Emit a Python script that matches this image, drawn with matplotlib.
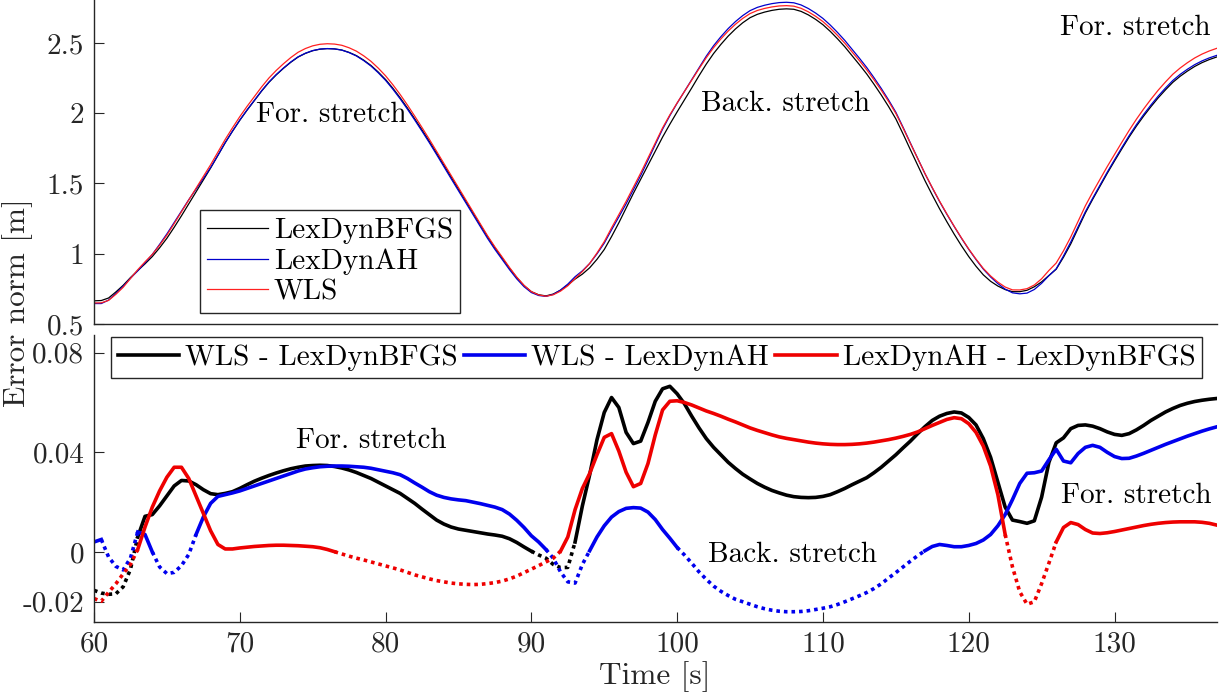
import numpy as np
import matplotlib
matplotlib.use("Agg")
import matplotlib.pyplot as plt

plt.rcParams['font.family'] = 'serif'
plt.rcParams['font.serif'] = ['cmr10']
plt.rcParams['mathtext.fontset'] = 'cm'
plt.rcParams['axes.unicode_minus'] = False

# time grid, 0.5 s samples
t = np.arange(60, 137.01, 0.5)

# error norm of LexDynBFGS (top panel)
err_bfgs = np.array([
    0.665, 0.667, 0.685, 0.728, 0.775, 0.830, 0.880, 0.928, 0.980, 1.042,
    1.110, 1.188, 1.270, 1.355, 1.440, 1.525, 1.610, 1.700, 1.790, 1.872,
    1.950, 2.022, 2.090, 2.158, 2.220, 2.273, 2.320, 2.363, 2.400, 2.426,
    2.445, 2.456, 2.460, 2.458, 2.450, 2.433, 2.410, 2.378, 2.340, 2.293,
    2.240, 2.178, 2.110, 2.037, 1.960, 1.881, 1.800, 1.716, 1.630, 1.545,
    1.460, 1.375, 1.290, 1.205, 1.120, 1.042, 0.970, 0.897, 0.830, 0.773,
    0.730, 0.708, 0.700, 0.713, 0.740, 0.778, 0.820, 0.855, 0.900, 0.960,
    1.030, 1.122, 1.220, 1.325, 1.430, 1.530, 1.630, 1.730, 1.830, 1.922,
    2.010, 2.095, 2.180, 2.267, 2.350, 2.425, 2.490, 2.549, 2.600, 2.644,
    2.680, 2.704, 2.720, 2.732, 2.740, 2.743, 2.740, 2.725, 2.700, 2.668,
    2.630, 2.583, 2.530, 2.473, 2.410, 2.346, 2.280, 2.207, 2.130, 2.048,
    1.960, 1.852, 1.740, 1.630, 1.520, 1.418, 1.320, 1.228, 1.140, 1.057,
    0.980, 0.911, 0.850, 0.804, 0.770, 0.745, 0.730, 0.730, 0.740, 0.765,
    0.800, 0.845, 0.890, 0.975, 1.070, 1.180, 1.290, 1.387, 1.480, 1.572,
    1.660, 1.746, 1.830, 1.908, 1.980, 2.047, 2.110, 2.167, 2.220, 2.263,
    2.300, 2.333, 2.360, 2.382, 2.400])

# differences (bottom panel)
wls_minus_bfgs = np.array([
    -0.0154, -0.0165, -0.0170, -0.0168, -0.0140, -0.0070, 0.0060, 0.0143, 0.0150, 0.0185,
    0.0225, 0.0265, 0.0287, 0.0285, 0.0270, 0.0250, 0.0234, 0.0230, 0.0235, 0.0242,
    0.0255, 0.0270, 0.0284, 0.0296, 0.0307, 0.0317, 0.0326, 0.0334, 0.0340, 0.0345,
    0.0347, 0.0348, 0.0347, 0.0343, 0.0337, 0.0329, 0.0319, 0.0307, 0.0295, 0.0280,
    0.0265, 0.0250, 0.0235, 0.0215, 0.0195, 0.0172, 0.0150, 0.0128, 0.0112, 0.0100,
    0.0092, 0.0087, 0.0082, 0.0077, 0.0072, 0.0068, 0.0063, 0.0053, 0.0038, 0.0020,
    0.0003, -0.0012, -0.0025, -0.0050, -0.0063, -0.0062, 0.0040, 0.0185, 0.0310, 0.0450,
    0.0560, 0.0620, 0.0580, 0.0480, 0.0435, 0.0445, 0.0520, 0.0605, 0.0655, 0.0665,
    0.0635, 0.0595, 0.0545, 0.0498, 0.0455, 0.0420, 0.0390, 0.0360, 0.0335, 0.0312,
    0.0293, 0.0275, 0.0260, 0.0247, 0.0237, 0.0228, 0.0222, 0.0219, 0.0218, 0.0219,
    0.0223, 0.0230, 0.0242, 0.0255, 0.0270, 0.0284, 0.0298, 0.0318, 0.0340, 0.0365,
    0.0390, 0.0418, 0.0445, 0.0475, 0.0503, 0.0528, 0.0545, 0.0556, 0.0562, 0.0558,
    0.0540, 0.0510, 0.0455, 0.0380, 0.0280, 0.0180, 0.0128, 0.0122, 0.0115, 0.0125,
    0.0220, 0.0360, 0.0438, 0.0458, 0.0495, 0.0508, 0.0510, 0.0505, 0.0495, 0.0482,
    0.0472, 0.0468, 0.0475, 0.0490, 0.0508, 0.0528, 0.0545, 0.0562, 0.0576, 0.0588,
    0.0597, 0.0604, 0.0609, 0.0613, 0.0616])

wls_minus_ah = np.array([
    0.0040, 0.0050, -0.0020, -0.0058, -0.0072, -0.0025, 0.0080, 0.0070, 0.0000, -0.0060,
    -0.0087, -0.0082, -0.0055, -0.0010, 0.0070, 0.0140, 0.0195, 0.0223, 0.0230, 0.0237,
    0.0245, 0.0255, 0.0265, 0.0275, 0.0285, 0.0295, 0.0305, 0.0315, 0.0325, 0.0333,
    0.0338, 0.0342, 0.0344, 0.0345, 0.0345, 0.0344, 0.0342, 0.0340, 0.0336, 0.0330,
    0.0324, 0.0318, 0.0310, 0.0295, 0.0277, 0.0260, 0.0242, 0.0228, 0.0219, 0.0213,
    0.0209, 0.0206, 0.0200, 0.0194, 0.0187, 0.0180, 0.0170, 0.0152, 0.0127, 0.0098,
    0.0065, 0.0040, 0.0010, -0.0025, -0.0080, -0.0120, -0.0125, -0.0050, 0.0005, 0.0060,
    0.0105, 0.0140, 0.0162, 0.0175, 0.0178, 0.0176, 0.0160, 0.0130, 0.0090, 0.0055,
    0.0018, -0.0012, -0.0045, -0.0080, -0.0110, -0.0137, -0.0158, -0.0175, -0.0190, -0.0200,
    -0.0210, -0.0220, -0.0228, -0.0234, -0.0238, -0.0240, -0.0240, -0.0239, -0.0236, -0.0231,
    -0.0226, -0.0220, -0.0211, -0.0200, -0.0188, -0.0176, -0.0163, -0.0147, -0.0128, -0.0105,
    -0.0083, -0.0060, -0.0037, -0.0015, 0.0005, 0.0022, 0.0030, 0.0026, 0.0021, 0.0021,
    0.0026, 0.0034, 0.0048, 0.0070, 0.0105, 0.0150, 0.0210, 0.0275, 0.0316, 0.0318,
    0.0325, 0.0370, 0.0412, 0.0365, 0.0358, 0.0395, 0.0420, 0.0428, 0.0420, 0.0400,
    0.0383, 0.0375, 0.0376, 0.0385, 0.0396, 0.0408, 0.0420, 0.0432, 0.0443, 0.0454,
    0.0465, 0.0475, 0.0485, 0.0494, 0.0502])

ah_minus_bfgs = np.array([
    -0.0187, -0.0198, -0.0162, -0.0128, -0.0088, -0.0050, 0.0010, 0.0100, 0.0180, 0.0245,
    0.0300, 0.0340, 0.0340, 0.0295, 0.0225, 0.0154, 0.0085, 0.0030, 0.0012, 0.0012,
    0.0016, 0.0019, 0.0022, 0.0024, 0.0026, 0.0027, 0.0027, 0.0026, 0.0025, 0.0023,
    0.0021, 0.0017, 0.0010, 0.0001, -0.0008, -0.0017, -0.0025, -0.0032, -0.0040, -0.0048,
    -0.0056, -0.0064, -0.0072, -0.0082, -0.0092, -0.0100, -0.0108, -0.0115, -0.0120, -0.0125,
    -0.0128, -0.0130, -0.0131, -0.0130, -0.0127, -0.0123, -0.0117, -0.0108, -0.0097, -0.0083,
    -0.0069, -0.0055, -0.0040, -0.0025, 0.0003, 0.0060, 0.0170, 0.0255, 0.0315, 0.0390,
    0.0460, 0.0475, 0.0405, 0.0320, 0.0262, 0.0275, 0.0355, 0.0470, 0.0570, 0.0605,
    0.0607, 0.0600, 0.0590, 0.0578, 0.0566, 0.0556, 0.0545, 0.0533, 0.0522, 0.0510,
    0.0498, 0.0488, 0.0479, 0.0470, 0.0462, 0.0456, 0.0451, 0.0446, 0.0441, 0.0437,
    0.0434, 0.0432, 0.0431, 0.0431, 0.0432, 0.0434, 0.0437, 0.0441, 0.0446, 0.0451,
    0.0457, 0.0464, 0.0472, 0.0482, 0.0495, 0.0508, 0.0520, 0.0532, 0.0539, 0.0535,
    0.0515, 0.0480, 0.0425, 0.0345, 0.0230, 0.0070, -0.0060, -0.0160, -0.0210, -0.0200,
    -0.0127, -0.0045, 0.0040, 0.0098, 0.0118, 0.0110, 0.0090, 0.0076, 0.0074, 0.0077,
    0.0082, 0.0088, 0.0094, 0.0100, 0.0106, 0.0111, 0.0115, 0.0118, 0.0120, 0.0121,
    0.0121, 0.0121, 0.0119, 0.0115, 0.0108])

# the other two error norms follow from the differences
err_wls = err_bfgs + wls_minus_bfgs
err_ah = err_wls - wls_minus_ah

labels_top = ['LexDynBFGS', 'LexDynAH', 'WLS']
labels_bot = ['WLS - LexDynBFGS', 'WLS - LexDynAH', 'LexDynAH - LexDynBFGS']

FS = 21
GRAY = '#262626'

fig = plt.figure(figsize=(12.19, 6.92), dpi=100)
ax1 = fig.add_axes([0.0771, 0.5318, 0.9209, 0.4682])
ax2 = fig.add_axes([0.0771, 0.1016, 0.9209, 0.4143])

for ax in (ax1, ax2):
    ax.spines['top'].set_visible(False)
    ax.spines['right'].set_visible(False)
    for s in ('left', 'bottom'):
        ax.spines[s].set_color(GRAY)
        ax.spines[s].set_linewidth(1.0)
    ax.tick_params(direction='in', length=7, width=0.8, colors=GRAY,
                   labelsize=FS, pad=7, labelcolor=GRAY)
    ax.set_xlim(60, 137)

# top panel
ax1.plot(t, err_bfgs, color='k', lw=0.9, label=labels_top[0])
ax1.plot(t, err_ah, color='#0000cc', lw=0.9, label=labels_top[1])
ax1.plot(t, err_wls, color='#ff2020', lw=0.9, label=labels_top[2])
ax1.set_ylim(0.5, 2.806)
ax1.set_yticks([0.5, 1, 1.5, 2, 2.5])
ax1.set_yticklabels(['0.5', '1', '1.5', '2', '2.5'])
ax1.set_xticks([])
ax1.text(76.3, 1.99, 'For. stretch', fontsize=FS, ha='center', va='center')
ax1.text(107.4, 2.07, 'Back. stretch', fontsize=FS, ha='center', va='center')
ax1.text(131.4, 2.61, 'For. stretch', fontsize=FS, ha='center', va='center')
leg1 = ax1.legend(loc='lower left', bbox_to_anchor=(0.094, 0.034), borderaxespad=0,
                  fontsize=FS, fancybox=False, framealpha=1, edgecolor=GRAY,
                  handlelength=2.1, handletextpad=0.2, borderpad=0.25, labelspacing=0.15)
leg1.get_frame().set_linewidth(1.0)


def split_plot(ax, t, y, color, label):
    neg = y < 0
    dot = neg.copy()
    dot[1:] |= neg[:-1]
    dot[:-1] |= neg[1:]
    ax.plot(t, np.where(dot, y, np.nan), color=color, lw=2.6, ls=(0, (1, 1.1)))
    ax.plot(t, np.where(~neg, y, np.nan), color=color, lw=2.6, label=label)


split_plot(ax2, t, wls_minus_bfgs, 'k', labels_bot[0])
split_plot(ax2, t, wls_minus_ah, '#0000ee', labels_bot[1])
split_plot(ax2, t, ah_minus_bfgs, '#ee0000', labels_bot[2])
ax2.set_ylim(-0.028, 0.0871)
ax2.set_yticks([-0.02, 0, 0.04, 0.08])
ax2.set_yticklabels(['-0.02', '0', '0.04', '0.08'])
ax2.set_xticks([60, 70, 80, 90, 100, 110, 120, 130])
ax2.set_xticklabels(['60', '70', '80', '90', '100', '110', '120', '130'])
ax2.text(79.0, 0.0448, 'For. stretch', fontsize=FS, ha='center', va='center')
ax2.text(107.9, -0.0013, 'Back. stretch', fontsize=FS, ha='center', va='center')
ax2.text(131.5, 0.0227, 'For. stretch', fontsize=FS, ha='center', va='center')
leg2 = ax2.legend(loc='upper left', bbox_to_anchor=(0.015, 0.993), borderaxespad=0,
                  ncol=3, fontsize=FS, fancybox=False, framealpha=1, edgecolor=GRAY,
                  handlelength=2.1, handletextpad=0.2, borderpad=0.25, columnspacing=0.22)
leg2.get_frame().set_linewidth(1.0)

fig.text(0.014, 0.563, 'Error norm [m]', rotation=90, fontsize=22.5,
         ha='center', va='center', color=GRAY)
fig.text(0.537, 0.023, 'Time [s]', fontsize=22.5, ha='center', va='center', color=GRAY)

fig.savefig('out.png', dpi=100)
